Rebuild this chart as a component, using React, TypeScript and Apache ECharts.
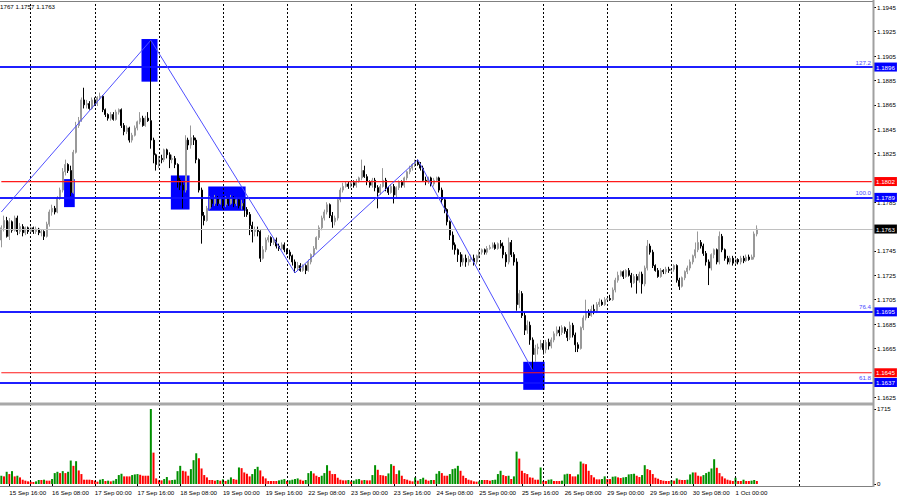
import React, { useEffect, useRef } from 'react';
import * as echarts from 'echarts';

const FONT = 'Liberation Sans';

// Hourly session slots (first visible bar 15 Sep 13:00, weekend skipped, future slots to the right edge)
const sessionDays = ['15 Sep', '16 Sep', '17 Sep', '18 Sep', '19 Sep', '22 Sep', '23 Sep', '24 Sep', '25 Sep', '26 Sep', '29 Sep', '30 Sep', '1 Oct', '2 Oct', '3 Oct'];
const firstSessionHour = 13;
const totalSlots = 327;

// Tick labels shown on the time axis
const timeLabels = ['15 Sep 16:00', '16 Sep 08:00', '17 Sep 00:00', '17 Sep 16:00', '18 Sep 08:00', '19 Sep 00:00', '19 Sep 16:00', '22 Sep 08:00', '23 Sep 00:00', '23 Sep 16:00', '24 Sep 08:00', '25 Sep 00:00', '25 Sep 16:00', '26 Sep 08:00', '29 Sep 00:00', '29 Sep 16:00', '30 Sep 08:00', '1 Oct 00:00'];
// Day separator grid lines
const daySeparators = ['16 Sep 00:00', '17 Sep 00:00', '18 Sep 00:00', '19 Sep 00:00', '22 Sep 00:00', '23 Sep 00:00', '24 Sep 00:00', '25 Sep 00:00', '26 Sep 00:00', '29 Sep 00:00', '30 Sep 00:00', '1 Oct 00:00', '2 Oct 00:00'];
// Price axis ticks, and the tick labels that stay visible (others sit under the level boxes)
const priceTicks = [1.1625, 1.1645, 1.1665, 1.1685, 1.1705, 1.1725, 1.1745, 1.1765, 1.1785, 1.1805, 1.1825, 1.1845, 1.1865, 1.1885, 1.1905, 1.1925, 1.1945];
const priceLabels = [1.1625, 1.1665, 1.1685, 1.1705, 1.1725, 1.1745, 1.1785, 1.1825, 1.1845, 1.1865, 1.1885, 1.1905, 1.1925, 1.1945];
const volumeTicks = [0, 1715];

// Candles: [open, close, low, high]
const sep15 = [[1.1754,1.1764,1.1748,1.1766],[1.1764,1.1770,1.1761,1.1774],[1.1770,1.1757,1.1756,1.1773],[1.1757,1.1769,1.1754,1.1772],[1.1769,1.1762,1.1760,1.1770],[1.1762,1.1772,1.1761,1.1774],[1.1772,1.1761,1.1758,1.1774],[1.1761,1.1765,1.1759,1.1768],[1.1765,1.1760,1.1757,1.1767],[1.1760,1.1764,1.1758,1.1765],[1.1764,1.1761,1.1759,1.1765]];
const sep16 = [[1.1761,1.1764,1.1759,1.1765],[1.1764,1.1761,1.1759,1.1765],[1.1761,1.1763,1.1759,1.1765],[1.1763,1.1760,1.1758,1.1764],[1.1760,1.1761,1.1757,1.1763],[1.1761,1.1757,1.1754,1.1762],[1.1757,1.1767,1.1756,1.1769],[1.1767,1.1777,1.1765,1.1779],[1.1777,1.1780,1.1774,1.1783],[1.1780,1.1777,1.1775,1.1782],[1.1777,1.1788,1.1776,1.1790],[1.1788,1.1795,1.1787,1.1797],[1.1795,1.1810,1.1793,1.1813],[1.1810,1.1816,1.1807,1.1820],[1.1816,1.1811,1.1809,1.1817],[1.1811,1.1793,1.1790,1.1815],[1.1793,1.1826,1.1792,1.1828],[1.1826,1.1848,1.1825,1.1851],[1.1848,1.1852,1.1846,1.1855],[1.1852,1.1869,1.1851,1.1871],[1.1869,1.1865,1.1862,1.1879],[1.1865,1.1866,1.1862,1.1869],[1.1866,1.1862,1.1861,1.1868],[1.1862,1.1869,1.1861,1.1871]];
const sep17 = [[1.1869,1.1866,1.1864,1.1871],[1.1866,1.1871,1.1864,1.1872],[1.1871,1.1872,1.1869,1.1875],[1.1872,1.1861,1.1859,1.1873],[1.1861,1.1857,1.1855,1.1862],[1.1857,1.1854,1.1852,1.1858],[1.1854,1.1857,1.1852,1.1859],[1.1857,1.1853,1.1852,1.1859],[1.1853,1.1859,1.1852,1.1861],[1.1859,1.1861,1.1857,1.1862],[1.1861,1.1848,1.1846,1.1862],[1.1848,1.1843,1.1840,1.1850],[1.1843,1.1846,1.1841,1.1848],[1.1846,1.1836,1.1834,1.1847],[1.1836,1.1840,1.1834,1.1842],[1.1840,1.1846,1.1839,1.1848],[1.1846,1.1851,1.1844,1.1852],[1.1851,1.1854,1.1849,1.1859],[1.1854,1.1848,1.1847,1.1856],[1.1848,1.1854,1.1847,1.1856],[1.1854,1.1852,1.1851,1.1859],[1.1852,1.1836,1.1829,1.1918],[1.1836,1.1824,1.1817,1.1838],[1.1824,1.1816,1.1811,1.1825]];
const sep18 = [[1.1816,1.1821,1.1813,1.1823],[1.1821,1.1820,1.1817,1.1824],[1.1820,1.1828,1.1818,1.1829],[1.1828,1.1824,1.1821,1.1829],[1.1824,1.1820,1.1813,1.1826],[1.1820,1.1821,1.1817,1.1824],[1.1821,1.1816,1.1813,1.1823],[1.1816,1.1803,1.1797,1.1817],[1.1803,1.1799,1.1795,1.1805],[1.1799,1.1795,1.1780,1.1802],[1.1795,1.1836,1.1793,1.1840],[1.1836,1.1832,1.1828,1.1838],[1.1832,1.1838,1.1829,1.1848],[1.1838,1.1836,1.1832,1.1840],[1.1836,1.1820,1.1817,1.1838],[1.1820,1.1795,1.1793,1.1821],[1.1795,1.1774,1.1751,1.1797],[1.1774,1.1770,1.1766,1.1777],[1.1770,1.1780,1.1769,1.1782],[1.1780,1.1787,1.1779,1.1790],[1.1787,1.1784,1.1781,1.1788],[1.1784,1.1788,1.1782,1.1791],[1.1788,1.1784,1.1782,1.1790],[1.1784,1.1787,1.1783,1.1789]];
const sep19 = [[1.1787,1.1783,1.1780,1.1788],[1.1783,1.1788,1.1781,1.1790],[1.1788,1.1784,1.1782,1.1789],[1.1784,1.1788,1.1783,1.1791],[1.1788,1.1784,1.1781,1.1790],[1.1784,1.1787,1.1782,1.1789],[1.1787,1.1782,1.1780,1.1788],[1.1782,1.1784,1.1779,1.1787],[1.1784,1.1779,1.1773,1.1788],[1.1779,1.1775,1.1773,1.1781],[1.1775,1.1766,1.1758,1.1777],[1.1766,1.1761,1.1752,1.1769],[1.1761,1.1762,1.1757,1.1765],[1.1762,1.1761,1.1757,1.1765],[1.1761,1.1739,1.1736,1.1762],[1.1739,1.1746,1.1738,1.1749],[1.1746,1.1754,1.1744,1.1756],[1.1754,1.1756,1.1752,1.1758],[1.1756,1.1752,1.1749,1.1757],[1.1752,1.1754,1.1750,1.1756],[1.1754,1.1749,1.1747,1.1756],[1.1749,1.1747,1.1745,1.1751],[1.1747,1.1750,1.1746,1.1752],[1.1750,1.1746,1.1744,1.1752]];
const sep22 = [[1.1746,1.1744,1.1742,1.1747],[1.1744,1.1741,1.1738,1.1746],[1.1741,1.1736,1.1733,1.1742],[1.1736,1.1731,1.1727,1.1738],[1.1731,1.1733,1.1729,1.1736],[1.1733,1.1729,1.1728,1.1735],[1.1729,1.1733,1.1728,1.1734],[1.1733,1.1729,1.1726,1.1734],[1.1729,1.1736,1.1728,1.1738],[1.1736,1.1742,1.1734,1.1743],[1.1742,1.1747,1.1740,1.1749],[1.1747,1.1756,1.1746,1.1757],[1.1756,1.1764,1.1754,1.1766],[1.1764,1.1772,1.1762,1.1774],[1.1772,1.1777,1.1770,1.1779],[1.1777,1.1783,1.1775,1.1785],[1.1783,1.1774,1.1772,1.1784],[1.1774,1.1769,1.1764,1.1777],[1.1769,1.1772,1.1766,1.1774],[1.1772,1.1787,1.1770,1.1788],[1.1787,1.1795,1.1785,1.1797],[1.1795,1.1798,1.1793,1.1801],[1.1798,1.1800,1.1797,1.1802],[1.1800,1.1798,1.1796,1.1802]];
const sep23 = [[1.1798,1.1801,1.1797,1.1802],[1.1801,1.1799,1.1797,1.1803],[1.1799,1.1802,1.1797,1.1804],[1.1802,1.1805,1.1801,1.1806],[1.1805,1.1811,1.1803,1.1820],[1.1811,1.1806,1.1805,1.1815],[1.1806,1.1802,1.1799,1.1808],[1.1802,1.1799,1.1797,1.1803],[1.1799,1.1803,1.1797,1.1805],[1.1803,1.1797,1.1794,1.1805],[1.1797,1.1793,1.1780,1.1799],[1.1793,1.1798,1.1791,1.1800],[1.1798,1.1803,1.1797,1.1813],[1.1803,1.1797,1.1794,1.1805],[1.1797,1.1793,1.1791,1.1798],[1.1793,1.1798,1.1792,1.1800],[1.1798,1.1791,1.1784,1.1800],[1.1791,1.1797,1.1789,1.1798],[1.1797,1.1802,1.1795,1.1803],[1.1802,1.1799,1.1797,1.1803],[1.1799,1.1805,1.1797,1.1806],[1.1805,1.1810,1.1803,1.1811],[1.1810,1.1813,1.1808,1.1815],[1.1813,1.1816,1.1811,1.1817]];
const sep24 = [[1.1816,1.1818,1.1814,1.1820],[1.1818,1.1816,1.1815,1.1820],[1.1816,1.1813,1.1811,1.1818],[1.1813,1.1803,1.1802,1.1815],[1.1803,1.1802,1.1799,1.1806],[1.1802,1.1805,1.1800,1.1806],[1.1805,1.1800,1.1798,1.1806],[1.1800,1.1803,1.1798,1.1805],[1.1803,1.1805,1.1802,1.1806],[1.1805,1.1795,1.1793,1.1806],[1.1795,1.1787,1.1784,1.1797],[1.1787,1.1779,1.1776,1.1788],[1.1779,1.1769,1.1766,1.1780],[1.1769,1.1758,1.1754,1.1770],[1.1758,1.1750,1.1746,1.1761],[1.1750,1.1746,1.1742,1.1752],[1.1746,1.1742,1.1736,1.1747],[1.1742,1.1736,1.1732,1.1744],[1.1736,1.1739,1.1733,1.1742],[1.1739,1.1736,1.1732,1.1742],[1.1736,1.1738,1.1733,1.1741],[1.1738,1.1739,1.1736,1.1742],[1.1739,1.1736,1.1733,1.1742],[1.1736,1.1741,1.1734,1.1742]];
const sep25 = [[1.1741,1.1744,1.1739,1.1746],[1.1744,1.1746,1.1742,1.1747],[1.1746,1.1744,1.1742,1.1747],[1.1744,1.1747,1.1742,1.1749],[1.1747,1.1748,1.1746,1.1750],[1.1748,1.1750,1.1747,1.1752],[1.1750,1.1747,1.1746,1.1752],[1.1747,1.1751,1.1746,1.1752],[1.1751,1.1749,1.1747,1.1754],[1.1749,1.1742,1.1739,1.1752],[1.1742,1.1736,1.1732,1.1744],[1.1736,1.1752,1.1734,1.1756],[1.1752,1.1742,1.1740,1.1754],[1.1742,1.1736,1.1733,1.1744],[1.1736,1.1701,1.1696,1.1739],[1.1701,1.1710,1.1698,1.1713],[1.1710,1.1692,1.1690,1.1712],[1.1692,1.1680,1.1676,1.1695],[1.1680,1.1684,1.1677,1.1688],[1.1684,1.1672,1.1668,1.1687],[1.1672,1.1660,1.1647,1.1674],[1.1660,1.1665,1.1654,1.1668],[1.1665,1.1666,1.1660,1.1669],[1.1666,1.1669,1.1664,1.1672]];
const sep26 = [[1.1669,1.1664,1.1660,1.1671],[1.1664,1.1670,1.1661,1.1672],[1.1670,1.1667,1.1664,1.1673],[1.1667,1.1672,1.1665,1.1674],[1.1672,1.1677,1.1670,1.1679],[1.1677,1.1680,1.1675,1.1683],[1.1680,1.1678,1.1675,1.1683],[1.1678,1.1682,1.1676,1.1684],[1.1682,1.1679,1.1677,1.1683],[1.1679,1.1674,1.1671,1.1681],[1.1674,1.1684,1.1672,1.1687],[1.1684,1.1676,1.1674,1.1686],[1.1676,1.1668,1.1662,1.1678],[1.1668,1.1665,1.1662,1.1670],[1.1665,1.1682,1.1664,1.1683],[1.1682,1.1690,1.1680,1.1692],[1.1690,1.1695,1.1688,1.1705],[1.1695,1.1692,1.1690,1.1697],[1.1692,1.1697,1.1691,1.1700],[1.1697,1.1696,1.1693,1.1701],[1.1696,1.1701,1.1694,1.1703],[1.1701,1.1703,1.1699,1.1706],[1.1703,1.1701,1.1700,1.1705],[1.1701,1.1705,1.1700,1.1707]];
const sep29 = [[1.1705,1.1706,1.1703,1.1708],[1.1706,1.1705,1.1704,1.1709],[1.1705,1.1713,1.1704,1.1715],[1.1713,1.1721,1.1711,1.1723],[1.1721,1.1725,1.1719,1.1728],[1.1725,1.1728,1.1724,1.1729],[1.1728,1.1724,1.1722,1.1729],[1.1724,1.1729,1.1723,1.1730],[1.1729,1.1725,1.1724,1.1731],[1.1725,1.1719,1.1715,1.1727],[1.1719,1.1724,1.1718,1.1726],[1.1724,1.1721,1.1710,1.1726],[1.1721,1.1726,1.1719,1.1728],[1.1726,1.1718,1.1710,1.1728],[1.1718,1.1731,1.1716,1.1733],[1.1731,1.1749,1.1729,1.1754],[1.1749,1.1744,1.1742,1.1751],[1.1744,1.1733,1.1731,1.1746],[1.1733,1.1729,1.1728,1.1734],[1.1729,1.1724,1.1723,1.1731],[1.1724,1.1729,1.1723,1.1731],[1.1729,1.1728,1.1726,1.1730],[1.1728,1.1730,1.1726,1.1732],[1.1730,1.1729,1.1727,1.1732]];
const sep30 = [[1.1729,1.1730,1.1727,1.1731],[1.1730,1.1733,1.1728,1.1734],[1.1733,1.1721,1.1719,1.1734],[1.1721,1.1716,1.1713,1.1723],[1.1716,1.1723,1.1715,1.1724],[1.1723,1.1728,1.1721,1.1729],[1.1728,1.1731,1.1726,1.1733],[1.1731,1.1736,1.1729,1.1738],[1.1736,1.1741,1.1734,1.1742],[1.1741,1.1746,1.1739,1.1752],[1.1746,1.1752,1.1744,1.1761],[1.1752,1.1749,1.1747,1.1754],[1.1749,1.1743,1.1741,1.1751],[1.1743,1.1736,1.1733,1.1745],[1.1736,1.1731,1.1717,1.1738],[1.1731,1.1742,1.1729,1.1743],[1.1742,1.1746,1.1739,1.1747],[1.1746,1.1736,1.1734,1.1747],[1.1736,1.1757,1.1734,1.1761],[1.1757,1.1746,1.1744,1.1759],[1.1746,1.1739,1.1737,1.1747],[1.1739,1.1736,1.1734,1.1741],[1.1736,1.1739,1.1734,1.1741],[1.1739,1.1735,1.1733,1.1741]];
const oct1 = [[1.1735,1.1738,1.1733,1.1739],[1.1738,1.1736,1.1734,1.1739],[1.1736,1.1739,1.1734,1.1741],[1.1739,1.1737,1.1735,1.1741],[1.1737,1.1740,1.1736,1.1742],[1.1740,1.1738,1.1737,1.1742],[1.1738,1.1740,1.1738,1.1742],[1.1740,1.1759,1.1738,1.1761],[1.1759,1.1763,1.1757,1.1766]];

// Tick volumes per bar
const volSep15 = [189,174,279,227,294,174,189,151,98,76,60];
const volSep16 = [53,45,60,91,91,98,76,76,113,249,279,249,294,249,279,536,415,521,310,227,98,98,98,91];
const volSep17 = [76,53,98,113,68,76,60,76,113,204,234,174,174,174,204,219,227,211,189,189,189,1715,717,128];
const volSep18 = [83,83,113,159,83,91,98,294,415,302,287,189,340,544,702,589,355,204,151,91,91,76,91,76];
const volSep19 = [106,68,98,151,113,98,378,362,264,234,174,227,340,393,310,174,128,68,68,68,68,83,98,113];
const volSep22 = [68,83,98,113,128,98,76,91,249,294,242,189,159,189,249,430,302,227,227,143,98,83,83,91];
const volSep23 = [60,76,106,113,83,91,83,83,204,430,325,204,196,181,242,453,415,227,310,189,113,98,76,60];
const volSep24 = [151,76,113,143,98,76,91,91,234,294,249,189,189,227,340,355,415,302,189,136,98,83,60,53];
const volSep25 = [60,91,91,91,76,91,98,227,302,204,181,189,113,174,740,581,302,249,227,151,143,98,98,378];
const volSep26 = [68,68,98,106,68,68,68,76,219,234,227,174,174,219,513,468,453,302,204,151,106,106,113,174];
const volSep29 = [113,113,166,174,151,136,151,159,219,227,234,189,159,204,430,340,317,227,143,121,91,76,68,68];
const volSep30 = [83,76,128,98,91,91,98,219,264,264,189,174,204,249,279,355,566,370,249,174,128,98,83,68];
const volOct1 = [143,68,68,98,68,68,76,91,68];

// Fibonacci levels (blue), support/resistance (red), last price
const fibLevels = [1.1896, 1.1789, 1.1695, 1.1637];
const fibNames = ['127.2', '100.0', '76.4', '61.8'];
const redLevels = [1.1802, 1.1645];
const lastPrice = 1.1763;
const headerText = '1767 1.1757 1.1763';

// Zigzag wave points: [bar index, price]
const zigzag = [[0, 1.1777], [56, 1.1918], [110, 1.1727], [156, 1.1820], [199, 1.1647]];
// Marked zones: [first bar, last bar, top price, bottom price]
const zones = [[24, 27, 1.1804, 1.1781], [53, 58, 1.1919, 1.1884], [64, 70, 1.1807, 1.1779], [78, 91, 1.1798, 1.1778], [196, 203, 1.1654, 1.1631]];

const candles = [...sep15, ...sep16, ...sep17, ...sep18, ...sep19, ...sep22, ...sep23, ...sep24, ...sep25, ...sep26, ...sep29, ...sep30, ...oct1];
const volumes = [...volSep15, ...volSep16, ...volSep17, ...volSep18, ...volSep19, ...volSep22, ...volSep23, ...volSep24, ...volSep25, ...volSep26, ...volSep29, ...volSep30, ...volOct1];

function buildSlots(): string[] {
  const out: string[] = [];
  sessionDays.forEach((d, di) => {
    for (let h = di === 0 ? firstSessionHour : 0; h < 24; h++) {
      if (out.length < totalSlots) out.push(`${d} ${String(h).padStart(2, '0')}:00`);
    }
  });
  return out;
}

const FS = 6.2;

export default function App() {
  const ref = useRef<HTMLDivElement>(null);
  useEffect(() => {
    if (!ref.current) return;
    const chart = echarts.init(ref.current, null, { renderer: 'svg' });
    const slots = buildSlots();
    const lastSlot = slots.length - 1;

    const vLines = daySeparators.map((s) => ({ xAxis: s }));

    const boxLabel = (p: number, bg: string) => ({
      show: true,
      position: 'end',
      formatter: p.toFixed(4),
      color: '#fff',
      backgroundColor: bg,
      padding: [2, 2, 1, 2],
      fontSize: FS,
      fontFamily: FONT,
      distance: 1,
    });

    const markBase = {
      silent: true,
      symbol: ['none', 'none'],
      animation: false,
      precision: 5,
      emphasis: { disabled: true },
    };

    const levelSeries = (name: string, z: number, lineStyle: any, data: any[]) => ({
      type: 'line',
      name,
      xAxisIndex: 0,
      yAxisIndex: 0,
      z,
      silent: true,
      data: [],
      markLine: { ...markBase, lineStyle, label: { show: false }, data },
    });

    // red levels drawn as plain horizontal line series across the whole slot range
    const redLineSeries = redLevels.map((p, k) => ({
      type: 'line',
      name: `red level ${k}`,
      xAxisIndex: 0,
      yAxisIndex: 0,
      z: 5,
      silent: true,
      symbol: 'none',
      showSymbol: false,
      color: '#ff0000',
      lineStyle: { color: '#ff1a1a', width: 1.2 },
      data: [[0, p], [lastSlot, p]],
    }));

    const option: any = {
      animation: false,
      backgroundColor: '#ffffff',
      textStyle: { fontFamily: FONT },
      grid: [
        { left: 0, top: 2, width: 873, height: 400 },
        { left: 0, top: 405, width: 873, height: 81 },
      ],
      xAxis: [
        { type: 'category', gridIndex: 0, data: slots, boundaryGap: true, show: false },
        {
          type: 'category',
          gridIndex: 1,
          data: slots,
          boundaryGap: true,
          axisLine: { show: false },
          axisTick: {
            show: true,
            alignWithLabel: true,
            interval: (_i: number, v: string) => timeLabels.includes(v),
            length: 3,
            lineStyle: { color: '#000' },
          },
          axisLabel: {
            show: true,
            interval: (_i: number, v: string) => timeLabels.includes(v),
            align: 'left',
            fontSize: FS,
            fontFamily: FONT,
            color: '#000',
            margin: 3,
          },
          splitLine: { show: false },
        },
      ],
      yAxis: [
        {
          type: 'value',
          gridIndex: 0,
          position: 'right',
          min: 1.1621,
          max: 1.19494,
          axisLine: { show: false },
          splitLine: { show: false },
          axisTick: { show: true, customValues: priceTicks, length: 3, lineStyle: { color: '#000' } },
          axisLabel: {
            show: true,
            customValues: priceLabels,
            formatter: (v: number) => v.toFixed(4),
            fontSize: FS,
            fontFamily: FONT,
            color: '#000',
            margin: 4,
          },
        },
        {
          type: 'value',
          gridIndex: 1,
          position: 'right',
          min: -46,
          max: 1806,
          axisLine: { show: false },
          splitLine: { show: false },
          axisTick: { show: true, customValues: volumeTicks, length: 3, lineStyle: { color: '#000' } },
          axisLabel: {
            show: true,
            customValues: volumeTicks,
            formatter: (v: number) => String(Math.round(v)),
            fontSize: FS,
            fontFamily: FONT,
            color: '#000',
            margin: 4,
          },
        },
      ],
      series: [
        {
          type: 'custom',
          name: 'zones',
          xAxisIndex: 0,
          yAxisIndex: 0,
          z: 1,
          silent: true,
          data: zones,
          encode: { x: [0, 1], y: [2, 3] },
          renderItem: (_params: any, api: any) => {
            const p1 = api.coord([api.value(0), api.value(2)]);
            const p2 = api.coord([api.value(1), api.value(3)]);
            const w = api.size([1, 0])[0];
            return {
              type: 'rect',
              shape: { x: p1[0] - w / 2, y: p1[1], width: p2[0] - p1[0] + w, height: p2[1] - p1[1] },
              style: { fill: '#0000ff' },
            };
          },
        },
        levelSeries('day grid', 0, { color: '#000', type: [2, 2], width: 1 }, vLines),
        {
          type: 'candlestick',
          name: 'EURUSD',
          xAxisIndex: 0,
          yAxisIndex: 0,
          z: 3,
          data: candles,
          barWidth: 1.5,
          silent: true,
          itemStyle: { color: '#999999', color0: '#000000', borderColor: '#999999', borderColor0: '#000000', borderWidth: 1 },
        },
        levelSeries('last price', 4, { color: '#c0c0c0', width: 1, type: 'solid' }, [
          { yAxis: lastPrice, label: boxLabel(lastPrice, '#000000') },
        ]),
        ...redLineSeries,
        levelSeries('red level boxes', 5, { color: 'rgba(255,0,0,0)', width: 1, type: 'solid' },
          redLevels.map((p) => ({ yAxis: p, label: boxLabel(p, '#ff0000') }))),
        levelSeries('fib levels', 5, { color: '#1010ff', width: 1.5, type: 'solid' },
          fibLevels.map((p) => ({ yAxis: p, label: boxLabel(p, '#0000ff') }))),
        levelSeries('fib names', 5, { color: '#1010ff', width: 1.5, type: 'solid' },
          fibLevels.map((p, i) => ({
            yAxis: p,
            label: { show: true, position: 'insideEndTop', formatter: fibNames[i], color: '#4848ff', fontSize: FS, fontFamily: FONT, distance: 2 },
          }))),
        {
          type: 'line',
          name: 'waves',
          xAxisIndex: 0,
          yAxisIndex: 0,
          z: 6,
          silent: true,
          data: zigzag,
          symbol: 'none',
          showSymbol: false,
          lineStyle: { color: '#5050ff', width: 1 },
        },
        {
          type: 'bar',
          name: 'Volumes',
          xAxisIndex: 1,
          yAxisIndex: 1,
          barWidth: 2,
          silent: true,
          z: 3,
          data: volumes.map((v, i) => ({
            value: v,
            itemStyle: { color: i === 0 || v > volumes[i - 1] ? '#009000' : '#ff0000' },
          })),
        },
        {
          type: 'line',
          name: 'volume day grid',
          xAxisIndex: 1,
          yAxisIndex: 1,
          z: 1,
          silent: true,
          data: [],
          markLine: { ...markBase, lineStyle: { color: '#000', type: [2, 2], width: 1 }, label: { show: false }, data: vLines },
        },
      ],
      graphic: [
        { type: 'text', left: 0, top: 3, z: 100, style: { text: headerText, fontSize: FS, fontFamily: FONT, fill: '#000' } },
        { type: 'line', z: 100, shape: { x1: 0, y1: 1.5, x2: 874, y2: 1.5 }, style: { stroke: '#808080', lineWidth: 1 } },
        { type: 'rect', z: 100, shape: { x: 0, y: 402.5, width: 874, height: 3 }, style: { fill: '#a8a8a8' } },
        { type: 'line', z: 100, shape: { x1: 0, y1: 486.5, x2: 874, y2: 486.5 }, style: { stroke: '#808080', lineWidth: 1 } },
        { type: 'line', z: 100, shape: { x1: 873.5, y1: 0, x2: 873.5, y2: 487 }, style: { stroke: '#a0a0a0', lineWidth: 2 } },
      ],
    };

    chart.setOption(option);
    return () => chart.dispose();
  }, []);

  return <div ref={ref} style={{ position: 'fixed', left: 0, top: 0, width: 900, height: 500, background: '#fff' }} />;
}
